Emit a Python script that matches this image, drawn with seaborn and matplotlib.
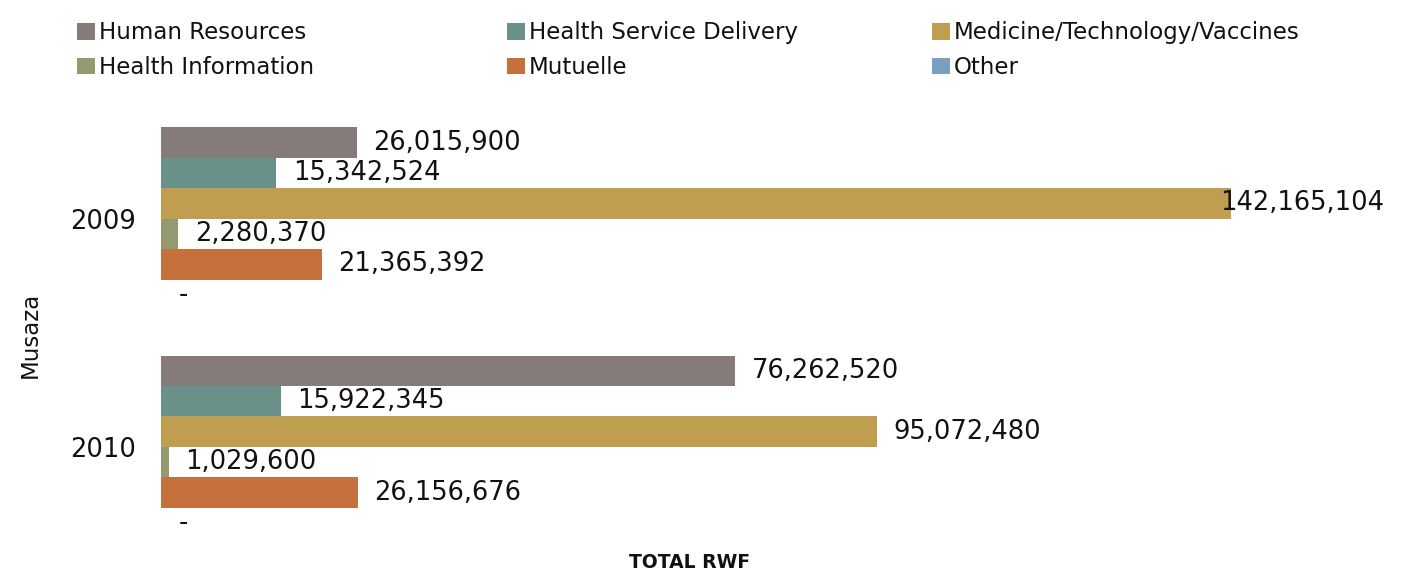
import numpy as np
import pandas as pd
import seaborn as sns
import matplotlib.pyplot as plt
from matplotlib.patches import Patch

years = ["2009", "2010"]
categories = ["Human Resources", "Health Service Delivery", "Medicine/Technology/Vaccines",
              "Health Information", "Mutuelle", "Other"]
values_2009 = [26015900, 15342524, 142165104, 2280370, 21365392, 0]
values_2010 = [76262520, 15922345, 95072480, 1029600, 26156676, 0]
colors = ["#857b79", "#6a9189", "#c09e50", "#949a70", "#c4713e", "#7b9fc2"]

df = pd.DataFrame({
    "year": np.repeat(years, len(categories)),
    "category": categories * len(years),
    "value": values_2009 + values_2010,
})

sns.set_style("white")
plt.rcParams["font.family"] = ["DejaVu Sans"]

fig = plt.figure(figsize=(14.23, 5.76), dpi=100)
ax = fig.add_axes([161 / 1423, 1 - 545 / 576, (1400 - 161) / 1423, 445 / 576])

sns.barplot(data=df, y="year", x="value", hue="category", order=years,
            hue_order=categories, palette=colors, orient="h", saturation=1,
            errorbar=None, legend=False, linewidth=0, ax=ax)

px_per_unit = (1231 - 161) / 142165104
ax.set_xlim(0, (1400 - 161) / px_per_unit)
ax.set_ylim(1.43, -0.52)

for cont in ax.containers:
    for bar in cont:
        v = bar.get_width()
        yc = bar.get_y() + bar.get_height() / 2
        if v == 0:
            txt, off = "-", 13
        else:
            txt = f"{v:,.0f}"
            off = -8 if v > 130e6 else 12
        ax.annotate(txt, xy=(v, yc), xytext=(off, 0), textcoords="offset points",
                    ha="left", va="center", fontsize=18.5, color="#111111")

ax.set_xticks([])
ax.tick_params(axis="y", length=0, pad=18, labelsize=18.5, labelcolor="#111111")
ax.set_xlabel("")
ax.set_ylabel("")
sns.despine(ax=ax, left=True, bottom=True)

fig.text(30 / 1423, 1 - 335 / 576, "Musaza", rotation=90, ha="center", va="center",
         fontsize=16.5, color="#111111")
fig.text(690 / 1423, 1 - 562 / 576, "TOTAL RWF", ha="center", va="center",
         fontsize=13.5, fontweight="bold", color="#111111")

col_x = [66, 496, 921]
for c in range(3):
    idx = [c, c + 3]
    handles = [Patch(facecolor=colors[i], edgecolor="none") for i in idx]
    labels = [categories[i] for i in idx]
    fig.legend(handles, labels, loc="upper left",
               bbox_to_anchor=(col_x[c] / 1423, 1 - 10 / 576), frameon=False,
               fontsize=16.5, handlelength=0.75, handleheight=0.75, handletextpad=0.2,
               labelspacing=0.5, borderpad=0, labelcolor="#111111")

fig.savefig("out.png", dpi=100)
